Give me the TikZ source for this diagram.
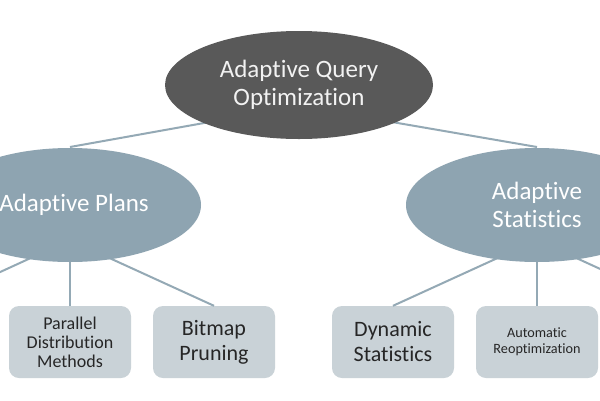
\documentclass[tikz,border=0pt]{standalone}
\usepackage{fontspec}
\setmainfont{Carlito}[Ligatures=NoCommon]
\usetikzlibrary{shapes.geometric}
\definecolor{topfill}{HTML}{595959}
\definecolor{midfill}{HTML}{8EA4B1}
\definecolor{boxfill}{HTML}{C9D2D7}
\definecolor{linecol}{HTML}{94A9B5}
\definecolor{boxtext}{HTML}{262626}
\tikzset{
  topnode/.style={ellipse, fill=topfill, inner sep=0pt, minimum width=268pt, minimum height=108pt, text=white!95!black, align=center, font=\fontsize{25}{28}\selectfont},
  midnode/.style={ellipse, fill=midfill, inner sep=0pt, minimum width=262pt, minimum height=114pt, text=white, align=center, font=\fontsize{25}{28}\selectfont},
  leafbox/.style={rectangle, rounded corners=10pt, fill=boxfill, inner sep=0pt, minimum width=122pt, minimum height=72pt, text=boxtext, align=center},
  conn/.style={draw=linecol, line width=2pt},
}
\begin{document}
\begin{tikzpicture}[x=1pt,y=-1pt]
\useasboundingbox (0,0) rectangle (600,400);
\clip (0,0) rectangle (600,400);
\fill[white] (0,0) rectangle (600,400);
% hidden connection points
\coordinate (hub) at (299,106);
\coordinate (lhub) at (70,240);
\coordinate (rhub) at (537,240);
\coordinate (hidL) at (-74,306);
\coordinate (hidR) at (681,306);
% leaves
\node[leafbox, font=\fontsize{18}{19}\selectfont] (par) at (70,342) {Parallel\\Distribution\\Methods};
\node[leafbox, font=\fontsize{22}{25}\selectfont] (bit) at (214,342) {Bitmap\\Pruning};
\node[leafbox, font=\fontsize{22}{25}\selectfont] (dyn) at (393,342) {Dynamic\\Statistics};
\node[leafbox, font=\fontsize{14.2}{16}\selectfont] (aut) at (537,342) {Automatic\\Reoptimization};
% connectors drawn behind ellipses
\draw[conn] (lhub) -- (hidL);
\draw[conn] (lhub) -- (par.north);
\draw[conn] (lhub) -- (bit.north);
\draw[conn] (rhub) -- (dyn.north);
\draw[conn] (rhub) -- (aut.north);
\draw[conn] (rhub) -- (hidR);
\draw[conn] (hub) -- (70,147);
\draw[conn] (hub) -- (537,147);
% ellipses
\node[midnode] (plans) at (70,205) {};
\node[text=white, font=\fontsize{25}{28}\selectfont, inner sep=0pt] (planstext) at (74,205) {Adaptive Plans};
\node[midnode] (stats) at (537,205) {Adaptive\\Statistics};
\node[topnode] (aqo) at (299,85) {Adaptive Query\\Optimization};
\end{tikzpicture}
\end{document}
